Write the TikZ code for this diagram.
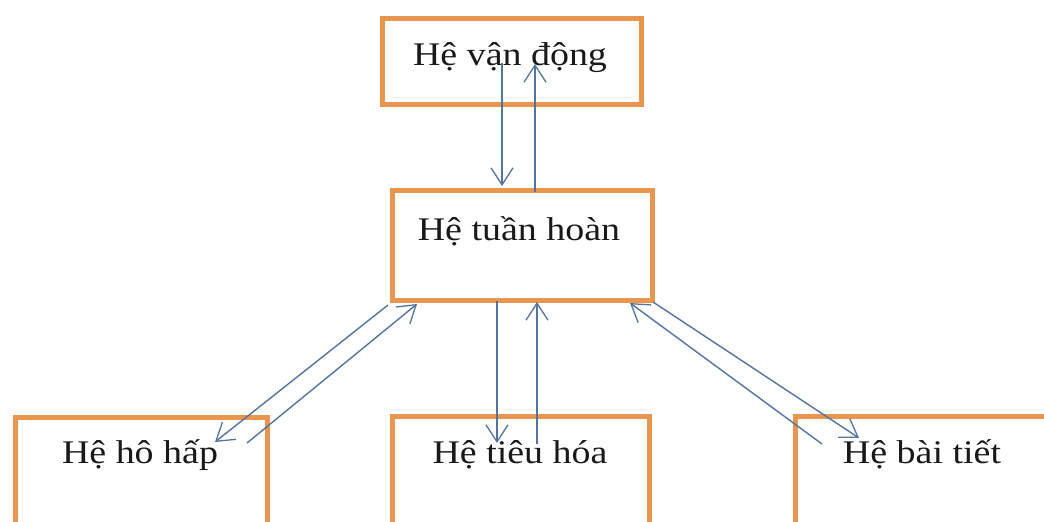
\documentclass[tikz,border=0pt]{standalone}
\usepackage{fontspec}
\setmainfont[FakeStretch=1.15]{Liberation Serif}
\usetikzlibrary{arrows.meta}
\definecolor{boxorange}{RGB}{232,150,80}
\definecolor{arrowblue}{RGB}{84,116,160}
\tikzset{
  sysbox/.style={draw=boxorange, line width=5pt, fill=white, inner sep=0pt},
  systext/.style={anchor=base, inner sep=0pt, font=\fontsize{33}{36}\selectfont, text=black!90},
  flow/.style={draw=arrowblue, line width=1.4pt, -{Straight Barb[length=17pt,width=22pt,line width=1.3pt]}}
}
\begin{document}
\begin{tikzpicture}[x=1pt,y=-1pt]
\useasboundingbox (0,0) rectangle (1044,522);
\clip (0,0) rectangle (1044,522);
\fill[white] (0,0) rectangle (1044,522);
% boxes
\node[sysbox, minimum width=259pt, minimum height=86pt] (bvan) at (511.5,61) {};
\node[sysbox, minimum width=260pt, minimum height=110pt] (btuan) at (522,245) {};
\node[sysbox, minimum width=252pt, minimum height=112pt] (bho) at (141.5,473.5) {};
\node[sysbox, minimum width=257pt, minimum height=112pt] (btieu) at (520.5,472) {};
\node[sysbox, minimum width=300pt, minimum height=112pt] (bbai) at (945.5,472) {};
% texts
\node[systext] (tvan) at (510,65) {Hệ vận động};
\node[systext] (ttuan) at (519,240) {Hệ tuần hoàn};
\node[systext] (tho) at (140,463) {Hệ hô hấp};
\node[systext] (ttieu) at (520,463) {Hệ tiêu hóa};
\node[systext] (tbai) at (922,463) {Hệ bài tiết};
% connector end points
\coordinate (a1s) at (502,63);  \coordinate (a1e) at (502,186);
\coordinate (a2s) at (535,192); \coordinate (a2e) at (535,64);
\coordinate (a3s) at (497,301); \coordinate (a3e) at (497,443);
\coordinate (a4s) at (537,444); \coordinate (a4e) at (537,302);
\coordinate (a5s) at (388,305); \coordinate (a5e) at (215,442);
\coordinate (a6s) at (247,443); \coordinate (a6e) at (417,304);
\coordinate (a7s) at (822,444); \coordinate (a7e) at (630,303);
\coordinate (a8s) at (653,302); \coordinate (a8e) at (859,438);
% connectors
\draw[flow] (a1s) -- (a1e);
\draw[flow] (a2s) -- (a2e);
\draw[flow] (a3s) -- (a3e);
\draw[flow] (a4s) -- (a4e);
\draw[flow] (a5s) -- (a5e);
\draw[flow] (a6s) -- (a6e);
\draw[flow] (a7s) -- (a7e);
\draw[flow] (a8s) -- (a8e);
\end{tikzpicture}
\end{document}
